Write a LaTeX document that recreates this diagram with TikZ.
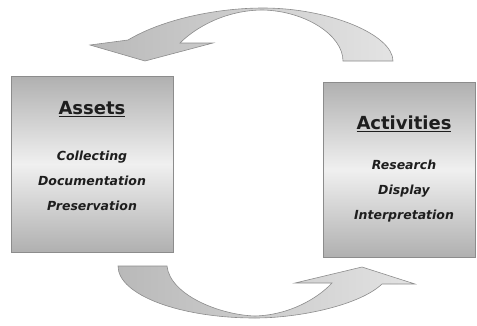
\documentclass[tikz,border=0pt]{standalone}
\usepackage{fontspec}
\usepackage{tikz}
\usetikzlibrary{calc}
\setmainfont{DejaVu Sans}
\definecolor{boxgray}{HTML}{B0B0B0}
\definecolor{linegray}{HTML}{8C8C8C}
\definecolor{inkgray}{HTML}{1E1E1E}

\begin{document}
\begin{tikzpicture}[x=1pt,y=-1pt,
	box/.style={draw=linegray,line width=0.8pt,top color=boxgray,bottom color=boxgray,middle color=white!94!black,minimum width=152pt,minimum height=175pt,inner sep=0pt},
	title/.style={font=\fontsize{18}{20}\selectfont\bfseries,text=inkgray,inner sep=0pt},
	items/.style={font=\fontsize{12.5}{25}\selectfont\bfseries\itshape,text=inkgray,align=center,inner sep=0pt},
	curvearrow/.style={draw=linegray,line width=0.6pt,left color=gray!55,right color=gray!22}]

\useasboundingbox (0,0) rectangle (477,325);

% boxes
\node[box,minimum width=162pt,minimum height=176pt] (assets) at (92,164) {};
\node[box] (activities) at (399,169.5) {};

\node[title] (assetstitle) at (92,109) {\underline{Assets}};
\node[items] (assetsitems) at (92,181) {Collecting\\Documentation\\Preservation};

\node[title] (activitiestitle) at (404,124) {\underline{Activities}};
\node[items] (activitiesitems) at (404,191) {Research\\Display\\Interpretation};

% top arrow, activities back to assets
\path[curvearrow] (343,61) .. controls (343,35) and (305,11) .. (263,10)
	.. controls (225,10) and (195,28) .. (180,43)
	-- (213,43) -- (145,61) -- (90,45) -- (128,40)
	.. controls (165,18) and (220,8) .. (263,8)
	.. controls (330,8) and (393,35) .. (393,61) -- cycle;

% bottom arrow, assets on to activities
\path[curvearrow] (118,266) -- (167,266)
	.. controls (170,295) and (220,315) .. (255,316)
	.. controls (290,315) and (318,298) .. (332,283)
	-- (295,283) -- (362,267) -- (415,284) -- (382,284)
	.. controls (360,305) and (300,318) .. (255,318)
	.. controls (180,318) and (118,295) .. (118,266) -- cycle;

\end{tikzpicture}
\end{document}
